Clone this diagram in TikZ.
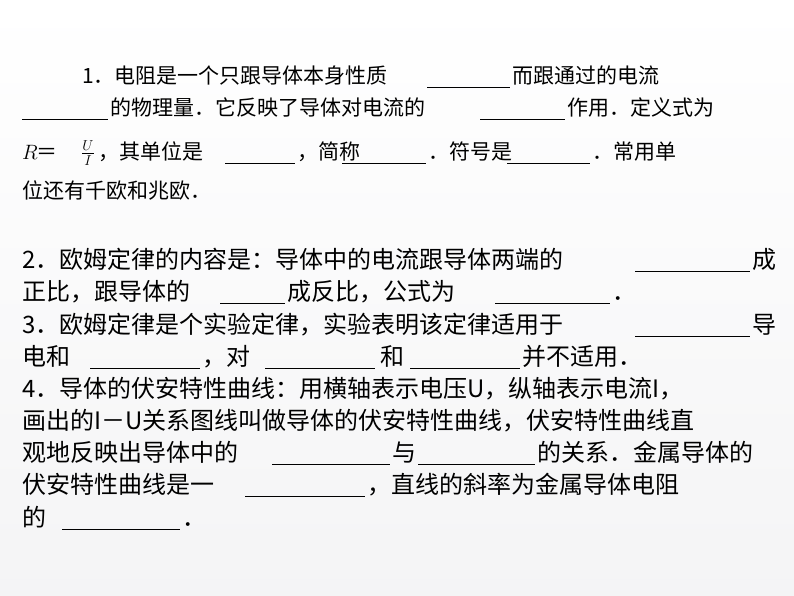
\documentclass[tikz,border=0pt]{standalone}
\usepackage{fontspec}
\newfontfamily\cjk{Noto Sans CJK SC}
\setmainfont{Liberation Serif}
\begin{document}
\begin{tikzpicture}[x=1pt,y=-1pt]
\useasboundingbox (0,0) rectangle (794,596);
\shade[top color=white,bottom color=blue!6!gray!8!white] (0,0) rectangle (794,596);
\tikzset{sa/.style={anchor=base west,inner sep=0pt,font=\cjk\fontsize{21}{21}\selectfont},
 sb/.style={anchor=base west,inner sep=0pt,font=\cjk\fontsize{24}{24}\selectfont},
 bl/.style={line width=0.8pt}}
\newcommand\tsa[3]{\node[sa] at (#1,#2) {#3};}
\newcommand\tsb[3]{\node[sb] at (#1,#2) {#3};}
\newcommand\tbk[3]{\draw[bl] (#1,#3+3) -- (#2,#3+3);}
% para 1
\tsa{82}{84}{1．电阻是一个只跟导体本身性质}\tbk{427}{510}{84}\tsa{512}{84}{而跟通过的电流}
\tbk{22}{108}{116}\tsa{110}{116}{的物理量．它反映了导体对电流的}\tbk{480}{565}{116}\tsa{567}{116}{作用．定义式为}
\node[sa,font=\fontsize{21}{21}\selectfont] at (22,160) {$R$};
\tsa{36}{160}{＝}
\node[anchor=center,inner sep=0pt,font=\fontsize{20}{20}\selectfont] at (88,153) {$\frac{U}{I}$};
\tsa{98}{160}{，其单位是}\tbk{225}{295}{160}\tsa{297}{160}{，简称}\tbk{342}{426}{160}\tsa{428}{160}{．符号是}\tbk{507}{590}{160}\tsa{592}{160}{．常用单}
\tsa{22}{198}{位还有千欧和兆欧．}
% para 2
\tsb{22}{268}{2．欧姆定律的内容是：导体中的电流跟导体两端的}\tbk{635}{750}{268}\tsb{752}{268}{成}
\tsb{22}{300}{正比，跟导体的}\tbk{220}{285}{300}\tsb{287}{300}{成反比，公式为}\tbk{495}{610}{300}\tsb{612}{300}{．}
% para 3
\tsb{22}{333}{3．欧姆定律是个实验定律，实验表明该定律适用于}\tbk{635}{750}{333}\tsb{752}{333}{导}
\tsb{22}{365}{电和}\tbk{90}{200}{365}\tsb{202}{365}{，对}\tbk{265}{375}{365}\tsb{380}{365}{和}\tbk{410}{520}{365}\tsb{522}{365}{并不适用．}
% para 4
\tsb{22}{397}{4．导体的伏安特性曲线：用横轴表示电压\textit{U}，纵轴表示电流\textit{I}，}
\tsb{22}{429}{画出的\textit{I}－\textit{U}关系图线叫做导体的伏安特性曲线，伏安特性曲线直}
\tsb{22}{461}{观地反映出导体中的}\tbk{272}{390}{461}\tsb{392}{461}{与}\tbk{418}{535}{461}\tsb{537}{461}{的关系．金属导体的}
\tsb{22}{493}{伏安特性曲线是一}\tbk{245}{365}{493}\tsb{367}{493}{，直线的斜率为金属导体电阻}
\tsb{22}{526}{的}\tbk{62}{180}{526}\tsb{182}{526}{．}
\end{tikzpicture}
\end{document}
